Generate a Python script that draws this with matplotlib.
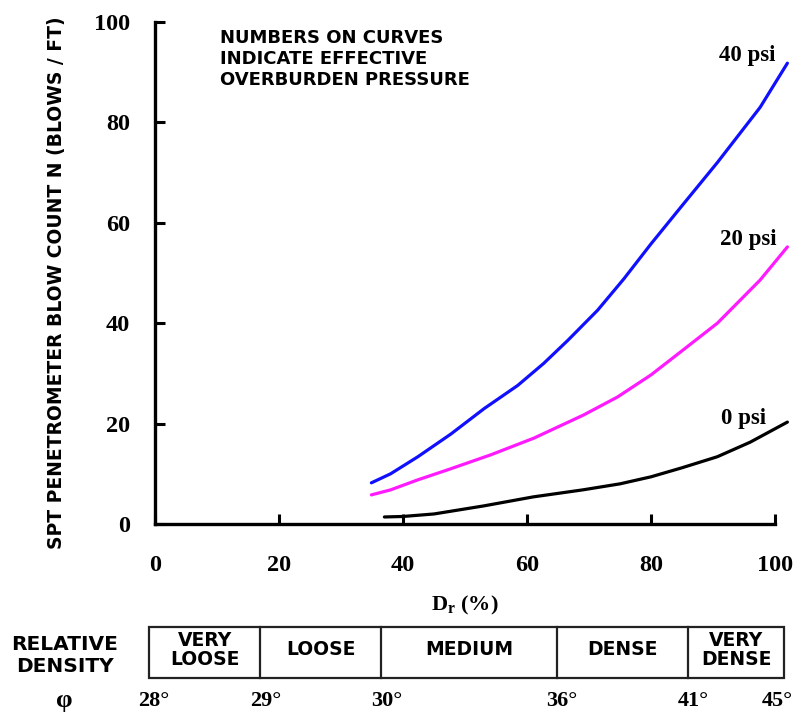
import matplotlib
matplotlib.use("Agg")
import matplotlib.pyplot as plt
from matplotlib.patches import Rectangle

# ── SPT blow count vs relative density (Gibbs & Holtz style chart) ──
d_40 = [34.9, 38.0, 42.4, 47.7, 53.1, 58.5, 62.7, 66.6, 71.4, 75.6, 80.0, 85.0, 90.7, 97.6, 102.0]
n_40 = [8.2, 10.0, 13.4, 17.9, 23.0, 27.6, 32.0, 36.6, 42.6, 48.8, 55.8, 63.4, 72.0, 83.0, 91.8]

d_20 = [34.9, 38.0, 42.4, 47.7, 54.2, 61.1, 69.1, 74.6, 80.0, 85.0, 90.7, 97.6, 102.0]
n_20 = [5.8, 6.8, 8.8, 11.0, 13.8, 17.1, 21.7, 25.3, 29.7, 34.5, 40.0, 48.6, 55.2]

d_0 = [37.0, 40.0, 45.0, 53.0, 61.0, 69.0, 75.0, 80.0, 85.0, 90.7, 96.0, 102.0]
n_0 = [1.4, 1.5, 2.0, 3.6, 5.4, 6.8, 8.0, 9.4, 11.2, 13.4, 16.3, 20.3]

curve_labels = ["40 psi", "20 psi", "0 psi"]

# relative density classes (edges in Dr %) and friction angle at each edge
class_edges = [-1.0, 17.0, 36.5, 64.8, 86.0, 101.5]
class_names = ["VERY\nLOOSE", "LOOSE", "MEDIUM", "DENSE", "VERY\nDENSE"]
phi_labels = ["28°", "29°", "30°", "36°", "41°", "45°"]

x_ticks = [0, 20, 40, 60, 80, 100]
y_ticks = [0, 20, 40, 60, 80, 100]

SERIF = ["Liberation Serif", "DejaVu Serif"]
SANS = ["DejaVu Sans"]

plt.rcParams["mathtext.fontset"] = "custom"
plt.rcParams["mathtext.rm"] = "Liberation Serif:bold"

W, H = 802, 723
fig = plt.figure(figsize=(W / 100, H / 100), dpi=100)
fig.patch.set_facecolor("white")

def px(x0, y0, x1, y1):
    # pixel box (top-left origin) -> figure fraction rect
    return [x0 / W, 1 - y1 / H, (x1 - x0) / W, (y1 - y0) / H]

ax = fig.add_axes(px(155, 22, 775, 524))
ax.set_xlim(0, 100)
ax.set_ylim(0, 100)
for side in ("top", "right"):
    ax.spines[side].set_visible(False)
for side in ("left", "bottom"):
    ax.spines[side].set_linewidth(2.4)
ax.tick_params(direction="in", length=7, width=2.2)
ax.set_xticks(x_ticks)
ax.set_yticks(y_ticks)
ax.set_xticklabels([str(t) for t in x_ticks], fontfamily=SERIF, fontweight="bold", fontsize=17.5)
ax.set_yticklabels([str(t) for t in y_ticks], fontfamily=SERIF, fontweight="bold", fontsize=17.5)
ax.tick_params(axis="y", pad=18)
ax.tick_params(axis="x", pad=22)

ax.plot(d_40, n_40, color="#1010ff", lw=2.3, clip_on=False, solid_capstyle="round")
ax.plot(d_20, n_20, color="#ff1aff", lw=2.3, clip_on=False, solid_capstyle="round")
ax.plot(d_0, n_0, color="black", lw=2.3, clip_on=False, solid_capstyle="round")

# curve tags sit just left of each curve end
for lab, dd, nn, dx, dy in zip(curve_labels, [d_40, d_20, d_0], [n_40, n_20, n_0],
                               [2.0, 1.7, 3.5], [1.6, 1.4, 0.8]):
    ax.text(dd[-1] - dx, nn[-1] + dy, lab, ha="right", va="center",
            fontfamily=SERIF, fontweight="bold", fontsize=16.5)

ax.text(10.5, 98.6, "NUMBERS ON CURVES\nINDICATE EFFECTIVE\nOVERBURDEN PRESSURE",
        ha="left", va="top", fontfamily=SANS, fontweight="bold", fontsize=13.0,
        linespacing=1.2)

ax.set_xlabel(r"D$_{\mathrm{r}}$ (%)", fontfamily=SERIF, fontweight="bold", fontsize=16,
              labelpad=13)
fig.text(57 / W, 1 - 283 / H, "SPT PENETROMETER BLOW COUNT N (BLOWS / FT)",
         rotation=90, ha="center", va="center", fontfamily=SANS, fontweight="bold",
         fontsize=13.5)

# relative density strip, sharing the Dr scale of the main axes
tab = fig.add_axes(px(155, 627, 775, 678))
tab.set_xlim(0, 100)
tab.set_ylim(0, 1)
tab.axis("off")
tab.add_patch(Rectangle((class_edges[0], 0), class_edges[-1] - class_edges[0], 1,
                        fill=False, lw=1.6, edgecolor="#222222", clip_on=False))
for e in class_edges[1:-1]:
    tab.plot([e, e], [0, 1], color="#222222", lw=1.6, clip_on=False)
for name, a, b in zip(class_names, class_edges[:-1], class_edges[1:]):
    tab.text((a + b) / 2, 0.55, name, ha="center", va="center", fontfamily=SANS,
             fontweight="bold", fontsize=13.5, linespacing=0.95)
for lab, e in zip(phi_labels, class_edges):
    tab.text(min(e + 0.8, 100.3), -0.45, lab, ha="center", va="center", fontfamily=SERIF,
             fontweight="bold", fontsize=16)

fig.text(65 / W, 1 - 655 / H, "RELATIVE\nDENSITY", ha="center", va="center",
         fontfamily=SANS, fontweight="bold", fontsize=14.5, linespacing=1.2)
fig.text(64 / W, 1 - 700 / H, "φ", ha="center", va="center",
         fontfamily=SERIF, fontweight="bold", fontsize=19)

fig.savefig("out.png", dpi=100, facecolor="white")
